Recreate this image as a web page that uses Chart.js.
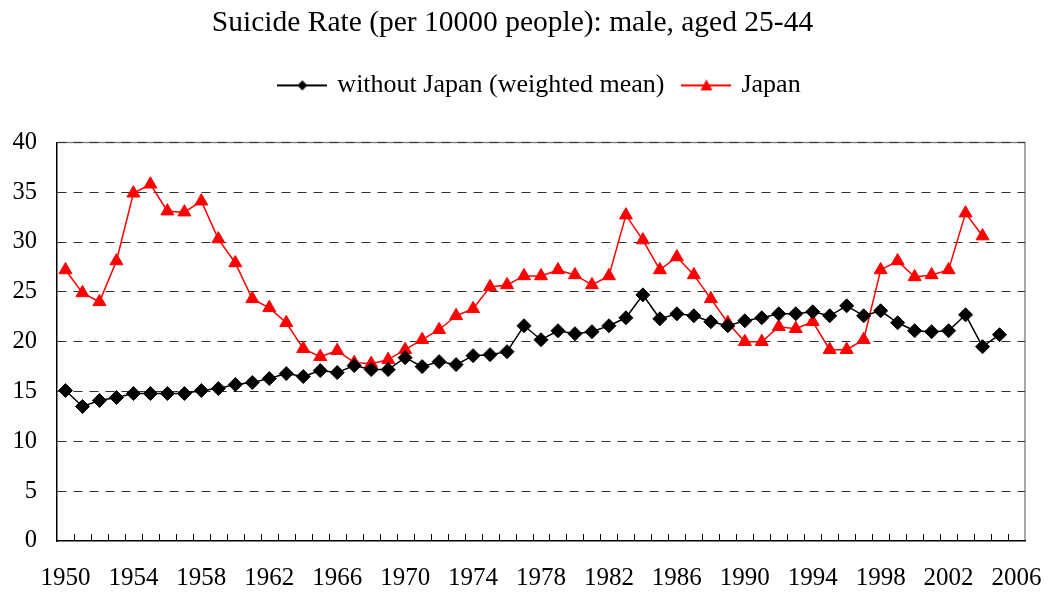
<!DOCTYPE html>
<html>
<head>
<meta charset="utf-8">
<script src="https://cdn.jsdelivr.net/npm/chart.js@4"></script>
<style>
  body { margin: 0; background: #fff; }
</style>
</head>
<body>
<canvas id="myChart" width="1048" height="593"></canvas>
<script>
const years = [
    1950, 1951, 1952, 1953, 1954, 1955, 1956, 1957, 1958, 1959,
    1960, 1961, 1962, 1963, 1964, 1965, 1966, 1967, 1968, 1969,
    1970, 1971, 1972, 1973, 1974, 1975, 1976, 1977, 1978, 1979,
    1980, 1981, 1982, 1983, 1984, 1985, 1986, 1987, 1988, 1989,
    1990, 1991, 1992, 1993, 1994, 1995, 1996, 1997, 1998, 1999,
    2000, 2001, 2002, 2003, 2004, 2005, 2006
];

const tickYears = [1950, 1954, 1958, 1962, 1966, 1970, 1974, 1978, 1982, 1986, 1990, 1994, 1998, 2002, 2006];

const withoutJapan = [
    15.1, 13.5, 14.1, 14.4, 14.8, 14.8, 14.8, 14.8, 15.1, 15.3,
    15.7, 15.9, 16.3, 16.8, 16.5, 17.1, 16.9, 17.6, 17.2, 17.2,
    18.4, 17.5, 18.0, 17.7, 18.6, 18.7, 19.0, 21.6, 20.2, 21.1,
    20.8, 21.0, 21.6, 22.4, 24.7, 22.3, 22.8, 22.6, 22.0, 21.6,
    22.1, 22.4, 22.8, 22.8, 23.0, 22.6, 23.6, 22.6, 23.1, 21.9,
    21.1, 21.0, 21.1, 22.7, 19.5, 20.7, null
];

const japan = [
    27.2, 24.9, 24.0, 28.1, 34.9, 35.8, 33.1, 33.0, 34.1, 30.3,
    27.9, 24.3, 23.4, 21.9, 19.3, 18.5, 19.1, 17.9, 17.8, 18.2,
    19.2, 20.2, 21.2, 22.6, 23.3, 25.5, 25.7, 26.6, 26.6, 27.2,
    26.7, 25.7, 26.6, 32.7, 30.2, 27.2, 28.5, 26.7, 24.3, 21.9,
    20.0, 20.0, 21.5, 21.3, 22.0, 19.2, 19.2, 20.2, 27.2, 28.1,
    26.5, 26.7, 27.2, 32.9, 30.6, null, null
];

const yTicks = [0, 5, 10, 15, 20, 25, 30, 35, 40];

// legend swatch: short line with the marker in the middle
function swatch(color, style) {
    const c = document.createElement('canvas');
    c.width = 50;
    c.height = 16;
    const g = c.getContext('2d');
    g.strokeStyle = color;
    g.fillStyle = color;
    g.lineWidth = 2;
    g.beginPath();
    g.moveTo(0, 8);
    g.lineTo(50, 8);
    g.stroke();
    g.beginPath();
    if (style === 'diamond') {
        g.moveTo(25, 3); g.lineTo(30, 8); g.lineTo(25, 13); g.lineTo(20, 8);
    } else {
        g.moveTo(25, 2); g.lineTo(31, 13); g.lineTo(19, 13);
    }
    g.closePath();
    g.fill();
    return c;
}

const legendSwatches = [swatch('#000000', 'diamond'), swatch('#ff0000', 'triangle')];

// gray frame on top / right of the plot
const frame = {
    id: 'frame',
    beforeDraw(chart) {
        const a = chart.chartArea;
        const g = chart.ctx;
        g.save();
        g.strokeStyle = '#8a8a8a';
        g.lineWidth = 1.5;
        g.beginPath();
        g.moveTo(a.left, a.top);
        g.lineTo(a.right, a.top);
        g.lineTo(a.right, a.bottom);
        g.stroke();
        g.restore();
    }
};

// small tick marks pointing up into the plot, between categories
const innerTicks = {
    id: 'innerTicks',
    beforeDatasetsDraw(chart) {
        const x = chart.scales.x;
        const a = chart.chartArea;
        const g = chart.ctx;
        g.save();
        g.strokeStyle = '#000';
        g.lineWidth = 1;
        g.beginPath();
        for (let i = 1; i < years.length; i++) {
            const px = Math.round((x.getPixelForValue(i - 1) + x.getPixelForValue(i)) / 2) + 0.5;
            g.moveTo(px, a.bottom);
            g.lineTo(px, a.bottom - 7);
        }
        g.stroke();
        g.restore();
    }
};

// extra room under the legend, and nudge it right like the original
const legendSpacer = {
    id: 'legendSpacer',
    beforeInit(chart) {
        const fit = chart.legend.fit;
        chart.legend.fit = function () {
            fit.call(this);
            this.height += 34;
        };
    },
    afterLayout(chart) {
        chart.legend.left += 28;
        chart.legend.right += 28;
    }
};

Chart.defaults.font.family = '"Liberation Serif", "Times New Roman", serif';
Chart.defaults.color = '#000';

const ctx = document.getElementById('myChart').getContext('2d');

const data = {
    labels: years,
    datasets: [{
        label: 'without Japan (weighted mean)',
        data: withoutJapan,
        borderColor: '#000000',
        backgroundColor: '#000000',
        borderWidth: 1.5,
        pointStyle: 'rectRot',
        pointRadius: 7,
        pointBorderWidth: 1,
        tension: 0,
    }, {
        label: 'Japan',
        data: japan,
        borderColor: '#ff0000',
        backgroundColor: '#ff0000',
        borderWidth: 1.5,
        pointStyle: 'triangle',
        pointRadius: 7.5,
        pointBorderWidth: 1,
        tension: 0,
    }],
};

const config = {
    type: 'line',
    data: data,
    plugins: [frame, innerTicks, legendSpacer],
    options: {
        responsive: false,
        animation: false,
        layout: {
            padding: { left: 0, right: 23, top: 0, bottom: 0 }
        },
        scales: {
            x: {
                offset: true,
                afterFit: function (scale) {
                    scale.height = 52;
                    scale.paddingLeft = 0;
                    scale.paddingRight = 0;
                },
                grid: { display: false, offset: true },
                border: { display: true, color: '#000', width: 1.5 },
                ticks: {
                    autoSkip: false,
                    maxRotation: 0,
                    padding: 14,
                    font: { size: 25 },
                    callback: function (value, index) {
                        const y = years[index];
                        return tickYears.includes(y) ? String(y) : '';
                    }
                }
            },
            y: {
                min: yTicks[0],
                max: yTicks[yTicks.length - 1],
                afterFit: function (scale) { scale.width = 57; },
                afterBuildTicks: function (scale) {
                    scale.ticks = yTicks.map(v => ({ value: v }));
                },
                grid: {
                    drawTicks: false,
                    lineWidth: 1,
                    color: c => c.tick && c.tick.value === 0 ? 'rgba(0,0,0,0)' : '#303030'
                },
                border: { display: true, color: '#000', width: 1.5, dash: [9, 7] },
                ticks: {
                    padding: 20,
                    font: { size: 24.5 }
                }
            }
        },
        plugins: {
            title: {
                display: true,
                text: 'Suicide Rate (per 10000 people): male, aged 25-44',
                color: '#000',
                font: { size: 29.5, weight: 'normal' },
                padding: { top: 6, bottom: 11 }
            },
            legend: {
                labels: {
                    usePointStyle: true,
                    pointStyleWidth: 44,
                    padding: 20,
                    color: '#000',
                    font: { size: 26 },
                    generateLabels: function (chart) {
                        return chart.data.datasets.map((ds, i) => ({
                            text: ds.label,
                            pointStyle: legendSwatches[i],
                            fillStyle: ds.backgroundColor,
                            strokeStyle: ds.borderColor,
                            lineWidth: 0,
                            hidden: false,
                            datasetIndex: i
                        }));
                    }
                }
            },
            tooltip: { enabled: false }
        }
    },
};

const myChart = new Chart(ctx, config);
</script>
</body>
</html>
